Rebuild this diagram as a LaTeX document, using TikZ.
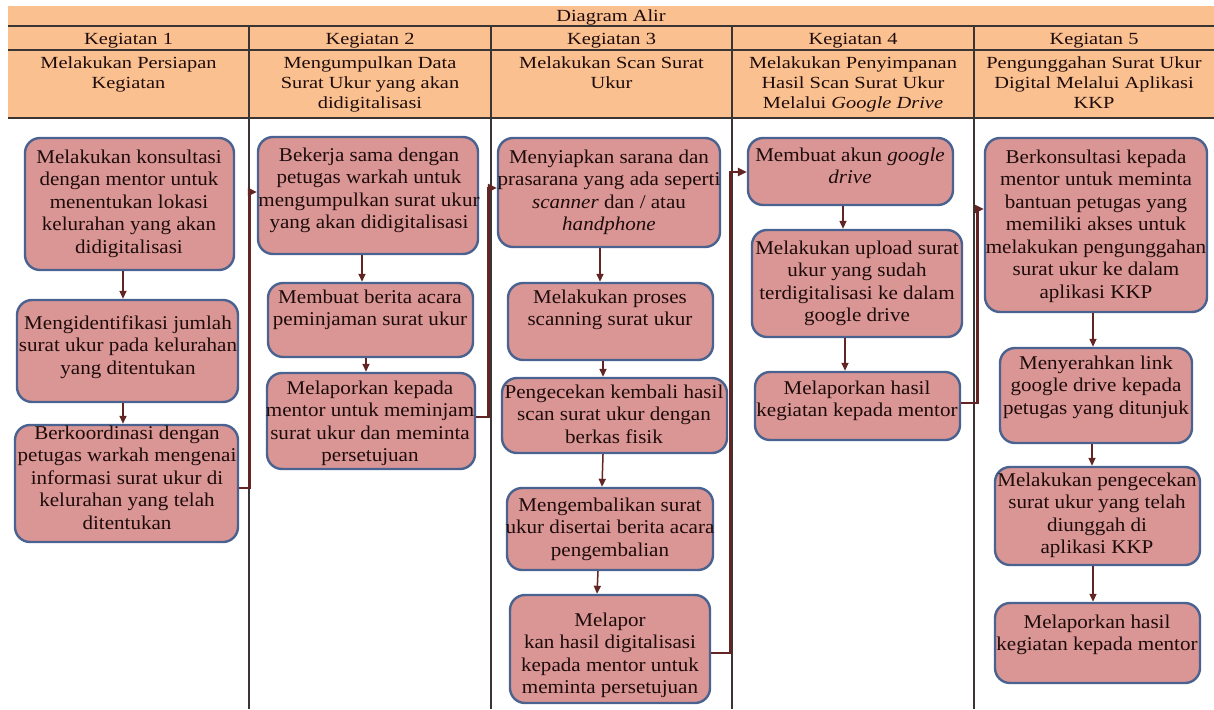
\documentclass[tikz,border=0pt]{standalone}
\usepackage{fontspec}
\setmainfont{Liberation Serif}
\newfontfamily\boxfont{Liberation Serif}[FakeStretch=1.08]
\newfontfamily\hdrfont{Liberation Serif}[FakeStretch=1.2]
\usetikzlibrary{arrows.meta,calc}
\definecolor{hdrfill}{HTML}{FAC090}
\definecolor{boxfill}{HTML}{D99694}
\definecolor{boxline}{HTML}{4A6290}
\definecolor{arrcol}{HTML}{632523}
\definecolor{gridcol}{HTML}{3A3434}
\definecolor{txtcol}{HTML}{1E0C0C}
\tikzset{
  stepbox/.style={draw=boxline, line width=2.4pt, fill=boxfill, rounded corners=15pt, inner sep=0pt},
  boxtxt/.style={anchor=north, yshift=13.5pt, align=center, inner sep=0pt, text=txtcol, font=\boxfont\fontsize{19.5}{22.5}\selectfont},
  hdrtxt/.style={anchor=north, yshift=11.7pt, align=center, inner sep=0pt, text=txtcol, font=\hdrfont\fontsize{17}{20}\selectfont},
  gridline/.style={draw=gridcol, line width=1.6pt},
  arr/.style={draw=arrcol, line width=1.5pt, -{Triangle[length=8pt,width=7pt]}},
  conn/.style={draw=arrcol, line width=2.6pt, -{Triangle[length=9pt,width=8pt]}}
}
\begin{document}
\begin{tikzpicture}[x=1pt,y=-1pt]
\useasboundingbox (0,0) rectangle (1214,709);
% header
\fill[hdrfill] (8,6) rectangle (1214,118);
\draw[gridline] (8,26) -- (1214,26);
\draw[gridline] (8,50) -- (1214,50);
\draw[gridline] (8,118) -- (1214,118);
\foreach \cx in {249,491,732,974} \draw[gridline] (\cx,26) -- (\cx,709);
\node[hdrtxt] (title) at (611,21.5) {Diagram Alir};
\node[hdrtxt] (k1) at (128.5,44.5) {Kegiatan 1};
\node[hdrtxt] (k2) at (370,44.5) {Kegiatan 2};
\node[hdrtxt] (k3) at (611.5,44.5) {Kegiatan 3};
\node[hdrtxt] (k4) at (853,44.5) {Kegiatan 4};
\node[hdrtxt] (k5) at (1094,44.5) {Kegiatan 5};
\node[hdrtxt] (h1) at (128.5,68.5) {Melakukan Persiapan\\Kegiatan};
\node[hdrtxt] (h2) at (370,68.5) {Mengumpulkan Data\\Surat Ukur yang akan\\didigitalisasi};
\node[hdrtxt] (h3) at (611.5,68.5) {Melakukan Scan Surat\\Ukur};
\node[hdrtxt] (h4) at (853,68.5) {Melakukan Penyimpanan\\Hasil Scan Surat Ukur\\Melalui \textit{Google Drive}};
\node[hdrtxt] (h5) at (1094,68.5) {Pengunggahan Surat Ukur\\Digital Melalui Aplikasi\\KKP};
% column 1
\node[stepbox, minimum width=209, minimum height=132] (a1) at (129.5,204) {};
\node[stepbox, minimum width=221, minimum height=102] (a2) at (127.5,351) {};
\node[stepbox, minimum width=223, minimum height=117] (a3) at (126.5,483.5) {};
\node[boxtxt] (a1t) at (129,163) {Melakukan konsultasi\\dengan mentor untuk\\menentukan lokasi\\kelurahan yang akan\\didigitalisasi};
\node[boxtxt] (a2t) at (128,329) {Mengidentifikasi jumlah\\surat ukur pada kelurahan\\yang ditentukan};
\node[boxtxt] (a3t) at (127,439) {Berkoordinasi dengan\\petugas warkah mengenai\\informasi surat ukur di\\kelurahan yang telah\\ditentukan};
% column 2
\node[stepbox, minimum width=220, minimum height=117] (b1) at (368,195.5) {};
\node[stepbox, minimum width=205, minimum height=74] (b2) at (370.5,320) {};
\node[stepbox, minimum width=208, minimum height=96] (b3) at (371,421) {};
\node[boxtxt] (b1t) at (369,161) {Bekerja sama dengan\\petugas warkah untuk\\mengumpulkan surat ukur\\yang akan didigitalisasi};
\node[boxtxt] (b2t) at (370,303) {Membuat berita acara\\peminjaman surat ukur};
\node[boxtxt] (b3t) at (370,394) {Melaporkan kepada\\mentor untuk meminjam\\surat ukur dan meminta\\persetujuan};
% column 3
\node[stepbox, minimum width=222, minimum height=109] (c1) at (609,192.5) {};
\node[stepbox, minimum width=205, minimum height=77] (c2) at (610.5,321.5) {};
\node[stepbox, minimum width=225, minimum height=75] (c3) at (614.5,415.5) {};
\node[stepbox, minimum width=206, minimum height=82] (c4) at (610,529) {};
\node[stepbox, minimum width=200, minimum height=108] (c5) at (610,649) {};
\node[boxtxt] (c1t) at (609,163) {Menyiapkan sarana dan\\prasarana yang ada seperti\\\textit{scanner} dan / atau\\\textit{handphone}};
\node[boxtxt] (c2t) at (610,303) {Melakukan proses\\scanning surat ukur};
\node[boxtxt] (c3t) at (614,398) {Pengecekan kembali hasil\\scan surat ukur dengan\\berkas fisik};
\node[boxtxt] (c4t) at (610,511) {Mengembalikan surat\\ukur disertai berita acara\\pengembalian};
\node[boxtxt] (c5t) at (610,626) {Melapor\\kan hasil digitalisasi\\kepada mentor untuk\\meminta persetujuan};
% column 4
\node[stepbox, minimum width=205, minimum height=67] (d1) at (850.5,171.5) {};
\node[stepbox, minimum width=210, minimum height=107] (d2) at (857,283.5) {};
\node[stepbox, minimum width=205, minimum height=68] (d3) at (857.5,406) {};
\node[boxtxt] (d1t) at (850,161) {Membuat akun \textit{google}\\\textit{drive}};
\node[boxtxt] (d2t) at (857,254) {Melakukan upload surat\\ukur yang sudah\\terdigitalisasi ke dalam\\google drive};
\node[boxtxt] (d3t) at (857,394) {Melaporkan hasil\\kegiatan kepada mentor};
% column 5
\node[stepbox, minimum width=222, minimum height=174] (e1) at (1096,225) {};
\node[stepbox, minimum width=192, minimum height=95] (e2) at (1096,395.5) {};
\node[stepbox, minimum width=205, minimum height=98] (e3) at (1097.5,516) {};
\node[stepbox, minimum width=205, minimum height=80] (e4) at (1097.5,643) {};
\node[boxtxt] (e1t) at (1096,163) {Berkonsultasi kepada\\mentor untuk meminta\\bantuan petugas yang\\memiliki akses untuk\\melakukan pengunggahan\\surat ukur ke dalam\\aplikasi KKP};
\node[boxtxt] (e2t) at (1096,369) {Menyerahkan link\\google drive kepada\\petugas yang ditunjuk};
\node[boxtxt] (e3t) at (1097,486) {Melakukan pengecekan\\surat ukur yang telah\\diunggah di\\aplikasi KKP};
\node[boxtxt] (e4t) at (1097,628) {Melaporkan hasil\\kegiatan kepada mentor};
% arrows within columns
\draw[arr] (a1.south -| 123,0) -- (a2.north -| 123,0);
\draw[arr] (a2.south -| 123,0) -- (a3.north -| 123,0);
\draw[arr] (b1.south -| 362,0) -- (b2.north -| 362,0);
\draw[arr] (b2.south -| 366,0) -- (b3.north -| 366,0);
\draw[arr] (c1.south -| 600,0) -- (c2.north -| 600,0);
\draw[arr] (c2.south -| 603,0) -- (c3.north -| 603,0);
\draw[arr] (c3.south -| 603,0) -- (c4.north -| 602,0);
\draw[arr] (c4.south -| 598,0) -- (c5.north -| 597,0);
\draw[arr] (d1.south -| 843,0) -- (d2.north -| 843,0);
\draw[arr] (d2.south -| 845,0) -- (d3.north -| 845,0);
\draw[arr] (e1.south -| 1093,0) -- (e2.north -| 1093,0);
\draw[arr] (e2.south -| 1092,0) -- (e3.north -| 1092,0);
\draw[arr] (e3.south -| 1093,0) -- (e4.north -| 1093,0);
% connectors between columns
\draw[conn] (a3.east |- 0,488) -- ++(10,0) |- (b1.west |- 0,192);
\draw[conn] (b3.east |- 0,417) -- ++(12,0) |- (c1.west |- 0,188);
\draw[conn] (c5.east |- 0,653) -- ++(19,0) |- (d1.west |- 0,172);
\draw[conn] (d3.east |- 0,403) -- ++(16,0) |- (e1.west |- 0,209);
\end{tikzpicture}
\end{document}
